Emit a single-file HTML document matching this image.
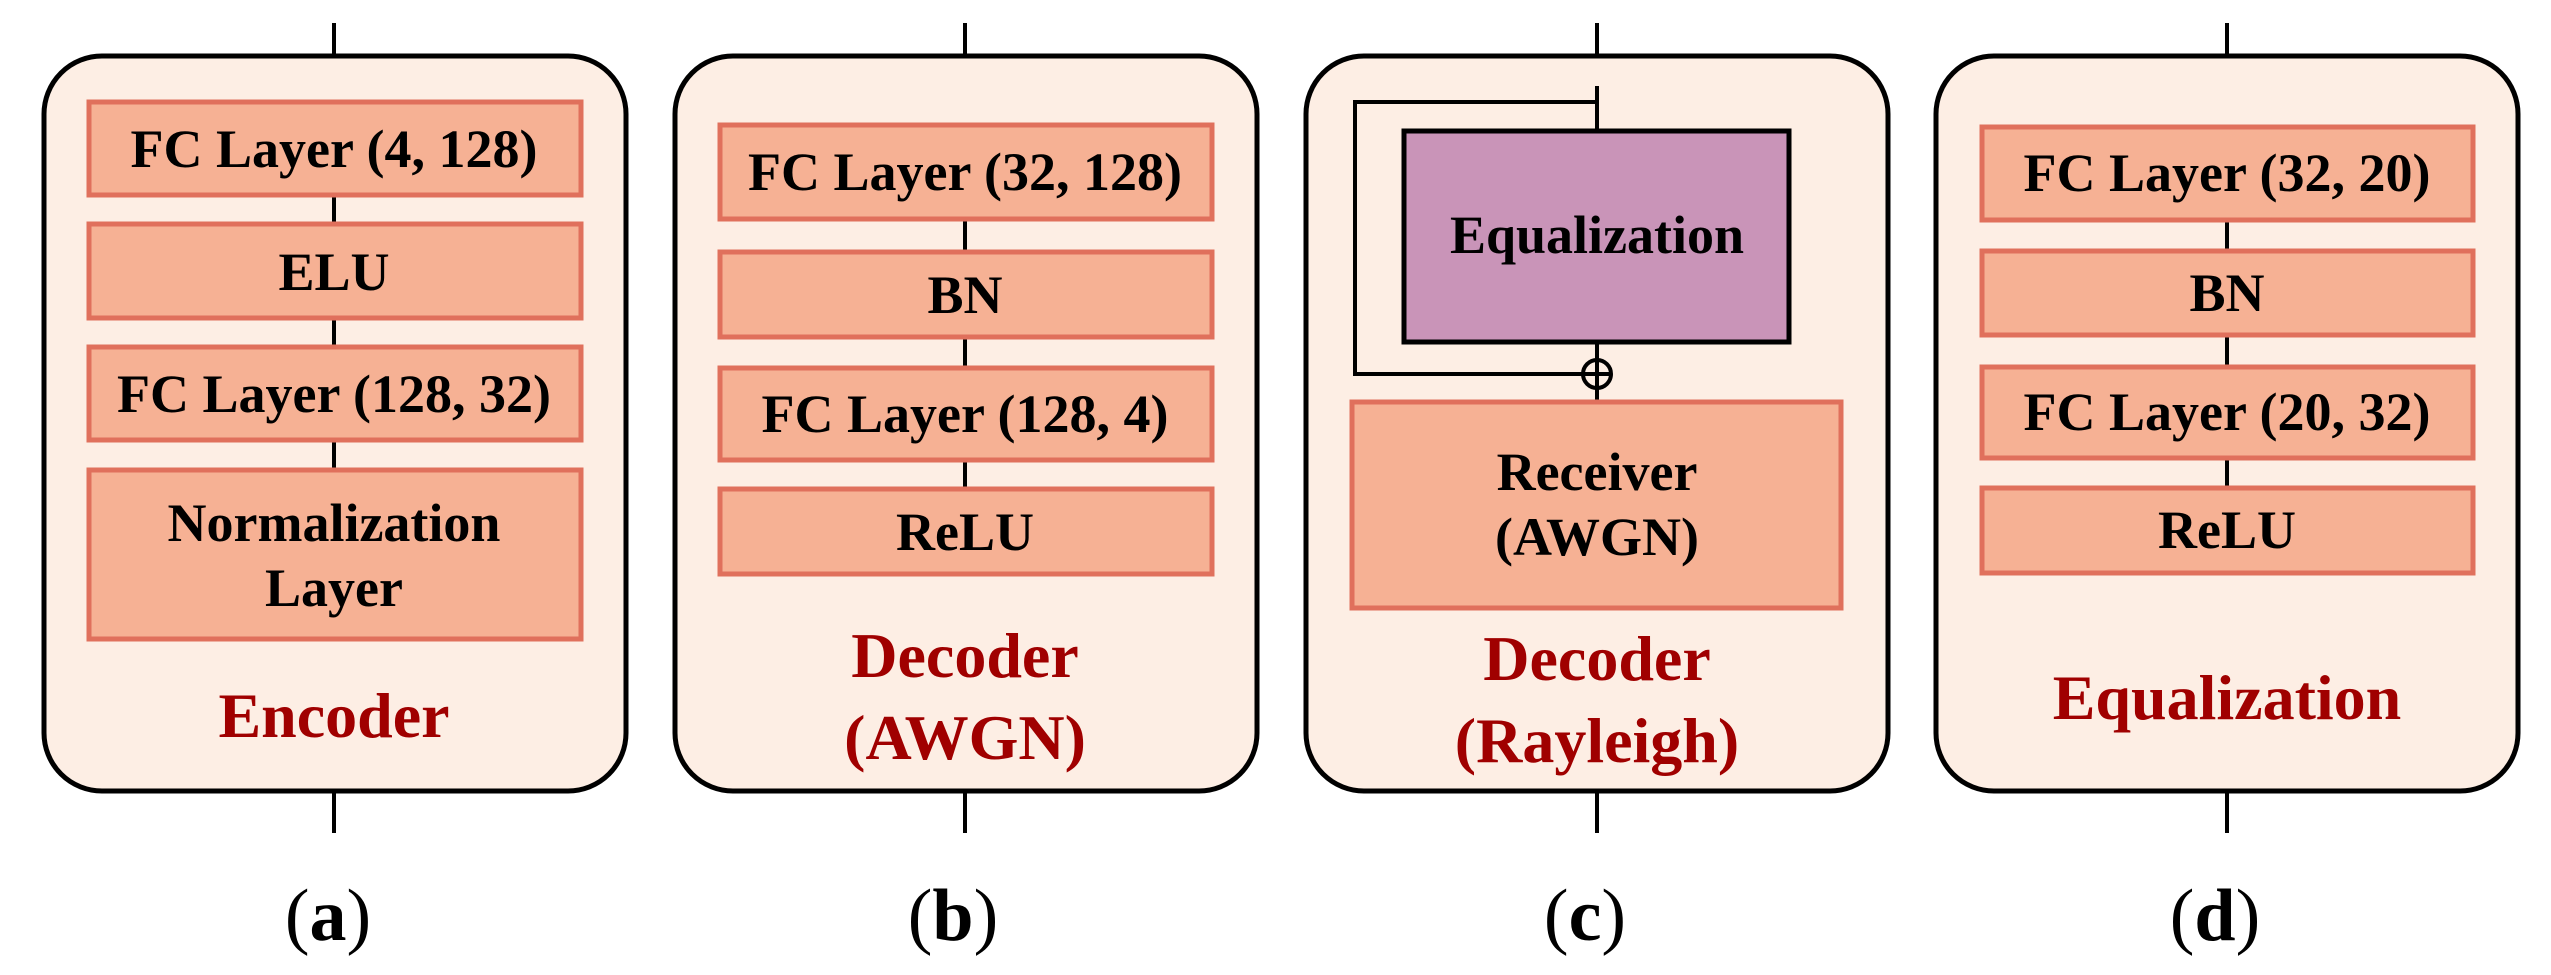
<!DOCTYPE html>
<html><head><meta charset="utf-8"><style>
html,body{margin:0;padding:0;background:#fff;}
svg{display:block;}
text{font-family:"Liberation Serif","DejaVu Serif",serif;font-weight:bold;text-anchor:middle;}
.in{fill:#f6b194;stroke:#e0705c;stroke-width:5;}
.out{fill:#fdeee4;stroke:#000;stroke-width:5;}
.ln{stroke:#000;stroke-width:4;fill:none;}
.t{font-size:54px;fill:#000;}
.r{font-size:64px;fill:#a00000;}
.lab{font-size:74px;fill:#000;font-weight:normal;}
</style></head><body>
<svg width="2551" height="975" viewBox="0 0 2551 975" xmlns="http://www.w3.org/2000/svg">
<!-- ticks -->
<g class="ln">
<line x1="334" y1="23" x2="334" y2="56"/><line x1="334" y1="790" x2="334" y2="833"/>
<line x1="965" y1="23" x2="965" y2="56"/><line x1="965" y1="790" x2="965" y2="833"/>
<line x1="1597" y1="23" x2="1597" y2="56"/><line x1="1597" y1="790" x2="1597" y2="833"/>
<line x1="2227" y1="23" x2="2227" y2="56"/><line x1="2227" y1="790" x2="2227" y2="833"/>
</g>
<!-- outer boxes -->
<rect class="out" x="44" y="56" width="582" height="735" rx="58"/>
<rect class="out" x="675" y="56" width="582" height="735" rx="58"/>
<rect class="out" x="1306" y="56" width="582" height="735" rx="58"/>
<rect class="out" x="1936" y="56" width="582" height="735" rx="58"/>

<!-- panel a -->
<g class="ln"><line x1="334" y1="197" x2="334" y2="222"/><line x1="334" y1="320" x2="334" y2="345"/><line x1="334" y1="442" x2="334" y2="468"/></g>
<rect class="in" x="89" y="102" width="492" height="93"/>
<rect class="in" x="89" y="224" width="492" height="94"/>
<rect class="in" x="89" y="347" width="492" height="93"/>
<rect class="in" x="89" y="470" width="492" height="169"/>
<text class="t" x="334" y="167">FC Layer (4, 128)</text>
<text class="t" x="334" y="290">ELU</text>
<text class="t" x="334" y="412">FC Layer (128, 32)</text>
<text class="t" x="334" y="541">Normalization</text>
<text class="t" x="334" y="606">Layer</text>
<text class="r" x="334" y="737">Encoder</text>

<!-- panel b -->
<g class="ln"><line x1="965" y1="220" x2="965" y2="250"/><line x1="965" y1="338" x2="965" y2="366"/><line x1="965" y1="461" x2="965" y2="490"/></g>
<rect class="in" x="720" y="125" width="492" height="94"/>
<rect class="in" x="720" y="252" width="492" height="85"/>
<rect class="in" x="720" y="368" width="492" height="92"/>
<rect class="in" x="720" y="489" width="492" height="85"/>
<text class="t" x="965" y="190">FC Layer (32, 128)</text>
<text class="t" x="965" y="313">BN</text>
<text class="t" x="965" y="432">FC Layer (128, 4)</text>
<text class="t" x="965" y="550">ReLU</text>
<text class="r" x="965" y="677">Decoder</text>
<text class="r" x="965" y="759">(AWGN)</text>

<!-- panel c -->
<g class="ln">
<line x1="1597" y1="86" x2="1597" y2="132"/>
<polyline points="1597,102 1355,102 1355,374 1582,374"/>
<line x1="1597" y1="343" x2="1597" y2="400"/>
</g>
<rect x="1404" y="131" width="385" height="211" fill="#c994b8" stroke="#000" stroke-width="5"/>
<circle cx="1597" cy="374" r="14" fill="#fdeee4" stroke="#000" stroke-width="4"/>
<line class="ln" x1="1583" y1="374" x2="1611" y2="374"/>
<line class="ln" x1="1597" y1="360" x2="1597" y2="388"/>
<rect class="in" x="1352" y="402" width="489" height="206"/>
<text class="t" x="1597" y="253">Equalization</text>
<text class="t" x="1597" y="490">Receiver</text>
<text class="t" x="1597" y="555">(AWGN)</text>
<text class="r" x="1597" y="680">Decoder</text>
<text class="r" x="1597" y="762">(Rayleigh)</text>

<!-- panel d -->
<g class="ln"><line x1="2227" y1="222" x2="2227" y2="249"/><line x1="2227" y1="337" x2="2227" y2="365"/><line x1="2227" y1="460" x2="2227" y2="486"/></g>
<rect class="in" x="1982" y="127" width="491" height="93"/>
<rect class="in" x="1982" y="251" width="491" height="84"/>
<rect class="in" x="1982" y="367" width="491" height="91"/>
<rect class="in" x="1982" y="488" width="491" height="85"/>
<text class="t" x="2227" y="191">FC Layer (32, 20)</text>
<text class="t" x="2227" y="311">BN</text>
<text class="t" x="2227" y="430">FC Layer (20, 32)</text>
<text class="t" x="2227" y="548">ReLU</text>
<text class="r" x="2227" y="719">Equalization</text>

<!-- labels -->
<text class="lab" x="328" y="940">(<tspan font-weight="bold">a</tspan>)</text>
<text class="lab" x="953" y="940">(<tspan font-weight="bold">b</tspan>)</text>
<text class="lab" x="1585" y="940">(<tspan font-weight="bold">c</tspan>)</text>
<text class="lab" x="2215" y="940">(<tspan font-weight="bold">d</tspan>)</text>
</svg>
</body></html>
